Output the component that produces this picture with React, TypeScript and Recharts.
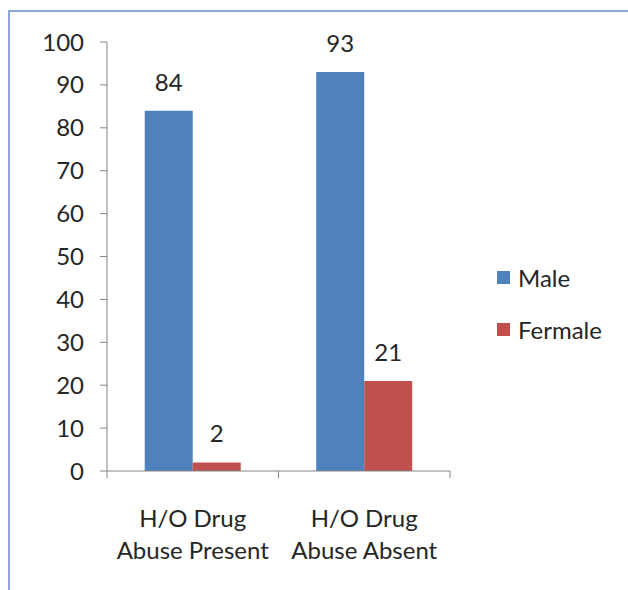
import React from 'react';
import { BarChart, Bar, XAxis, YAxis, LabelList } from 'recharts';

const categories = ['H/O Drug\nAbuse Present', 'H/O Drug\nAbuse Absent'];
const maleValues = [84, 93];
const femaleValues = [2, 21];
const yTicks = [0, 10, 20, 30, 40, 50, 60, 70, 80, 90, 100];

const data = categories.map((name, i) => ({
  name,
  male: maleValues[i],
  female: femaleValues[i],
}));

const FONT = 'Lato, "Noto Sans", sans-serif';
const AXIS = '#868686';
const TEXT = '#262626';

const CategoryTick = (props: any) => {
  const { x, y, payload, index } = props;
  const half = payload && payload.offset ? payload.offset : 85.75;
  const lines = String(payload.value).split('\n');
  return (
    <g>
      <line x1={x - half} y1={y} x2={x - half} y2={y + 7} stroke={AXIS} />
      {index === categories.length - 1 && (
        <line x1={x + half} y1={y} x2={x + half} y2={y + 7} stroke={AXIS} />
      )}
      {lines.map((l, i) => (
        <text key={i} x={x} y={y + 56 + i * 32} textAnchor="middle" fill={TEXT} fontSize={24} fontFamily={FONT}>
          {l}
        </text>
      ))}
    </g>
  );
};

const App: React.FC = () => {
  return (
    <div style={{ position: 'absolute', left: 0, top: 0, width: 628, height: 590, background: '#fff' }}>
      <div
        style={{
          position: 'absolute',
          left: 8,
          top: 10,
          width: 620,
          height: 580,
          borderTop: '2px solid #8aa6dc',
          borderLeft: '2px solid #8aa6dc',
          boxSizing: 'border-box',
        }}
      />
      <div style={{ position: 'absolute', left: 0, top: 0 }}>
        <BarChart
          width={628}
          height={590}
          data={data}
          margin={{ top: 42, right: 178, left: 0, bottom: 0 }}
          barCategoryGap="22%"
          barGap={0}
        >
          <YAxis
            domain={[0, 100]}
            ticks={yTicks}
            width={107}
            stroke={AXIS}
            tickSize={7}
            tickMargin={16}
            tick={{ fill: TEXT, fontSize: 24, fontFamily: FONT }}
            interval={0}
          />
          <XAxis
            dataKey="name"
            height={119}
            stroke={AXIS}
            tickLine={false}
            tickSize={0}
            tickMargin={0}
            tick={<CategoryTick />}
            interval={0}
          />
          <Bar dataKey="male" name="Male" fill="#4f81bd" isAnimationActive={false}>
            <LabelList dataKey="male" position="top" offset={20} fill={TEXT} fontSize={24} fontFamily={FONT} />
          </Bar>
          <Bar dataKey="female" name="Fermale" fill="#c0504d" isAnimationActive={false}>
            <LabelList dataKey="female" position="top" offset={20} fill={TEXT} fontSize={24} fontFamily={FONT} />
          </Bar>
        </BarChart>
      </div>
      <div style={{ position: 'absolute', left: 497, top: 262, fontFamily: FONT, fontSize: 24, color: TEXT }}>
        {[
          { name: 'Male', color: '#4f81bd' },
          { name: 'Fermale', color: '#c0504d' },
        ].map((s) => (
          <div key={s.name} style={{ display: 'flex', alignItems: 'center', height: 30, marginBottom: 22 }}>
            <span style={{ display: 'inline-block', width: 13, height: 13, background: s.color, marginRight: 8 }} />
            <span>{s.name}</span>
          </div>
        ))}
      </div>
    </div>
  );
};

export default App;
